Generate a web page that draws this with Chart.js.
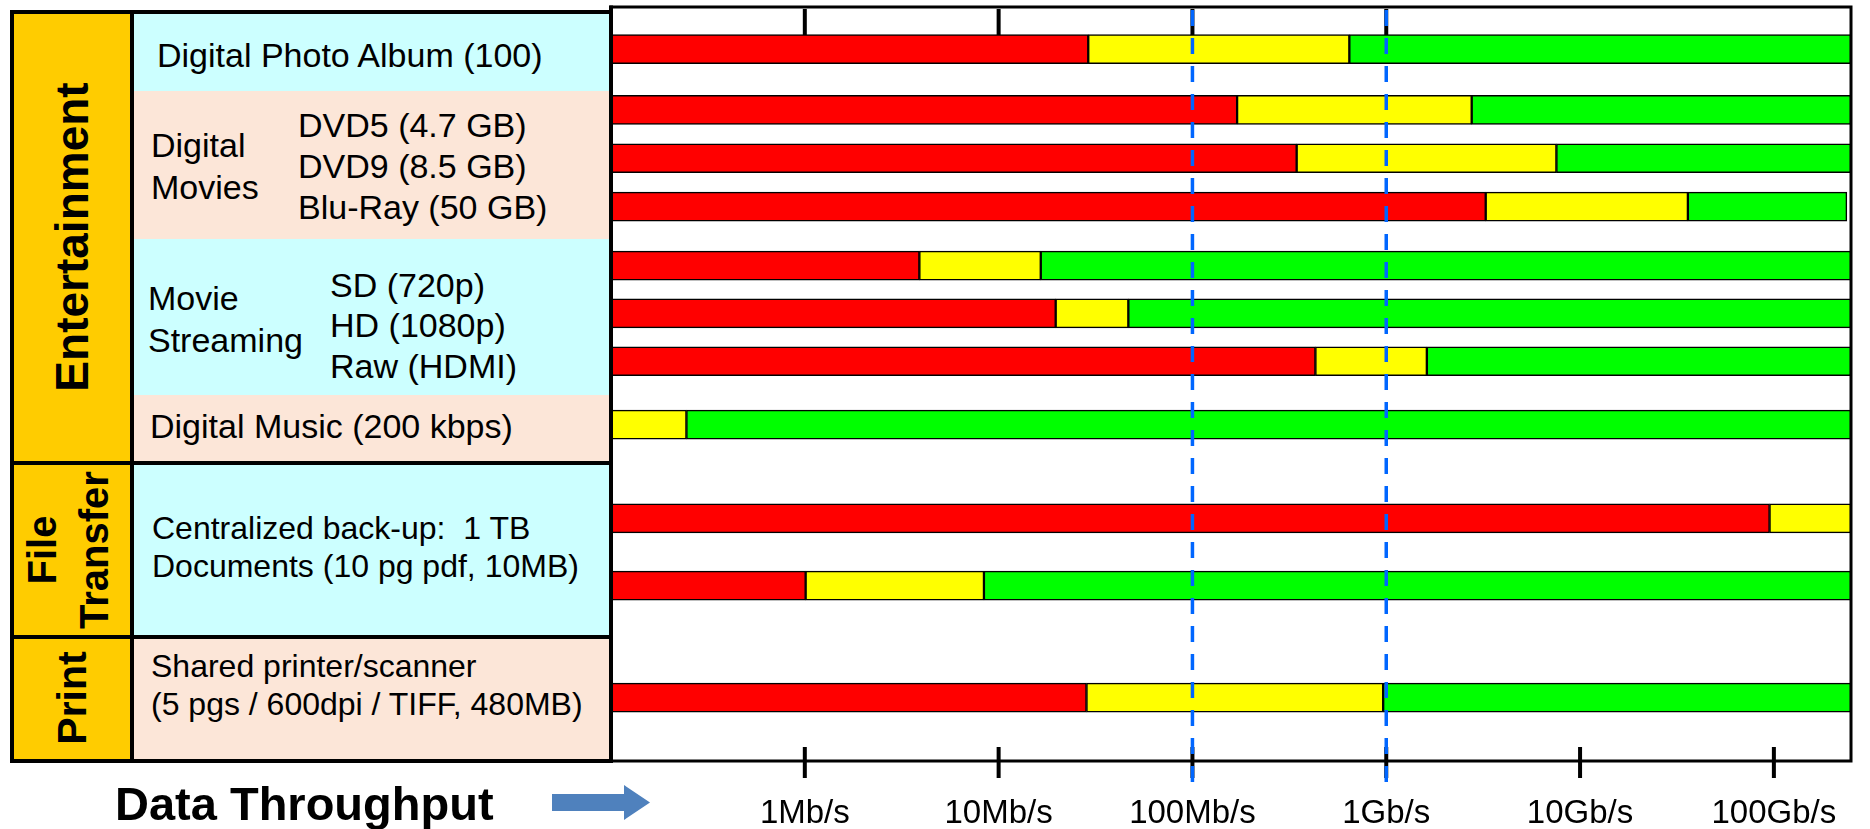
<!DOCTYPE html>
<html>
<head>
<meta charset="utf-8">
<title>Home network data throughput</title>
<script src="https://cdn.jsdelivr.net/npm/chart.js@4.4.1/dist/chart.umd.min.js"></script>
<style>
  html, body { margin: 0; padding: 0; background: #fff; }
  #wrap { position: relative; width: 1870px; height: 829px; overflow: hidden;
          font-family: "Liberation Sans", Arial, sans-serif; color: #000; }
  #chart-box { position: absolute; left: 0; top: 0; width: 1870px; height: 829px; }
  .box { position: absolute; }
  .cyan { background: #CCFFFF; }
  .peach { background: #FCE6D8; }
  .gold { background: #FFCC00; }
  .t { position: absolute; white-space: pre; line-height: 1; }
  .s34 { font-size: 34px; }
  .s32 { font-size: 32px; }
  .cat { position: absolute; transform: translate(-50%, -50%) rotate(-90deg);
         font-weight: bold; white-space: pre; text-align: center; line-height: 1; }
</style>
</head>
<body>
<div id="wrap">
  <div id="chart-box"><canvas id="chart"></canvas></div>

  <!-- category / use-case table on the left -->
  <div class="box" style="left:10px;top:10px;width:603px;height:753px;background:#000"></div>
  <div class="box gold" style="left:14px;top:14px;width:116px;height:447px"></div>
  <div class="box gold" style="left:14px;top:465px;width:116px;height:170px"></div>
  <div class="box gold" style="left:14px;top:639px;width:116px;height:120px"></div>

  <div class="box cyan"  style="left:134px;top:14px;width:475px;height:77px"></div>
  <div class="box peach" style="left:134px;top:91px;width:475px;height:148px"></div>
  <div class="box cyan"  style="left:134px;top:239px;width:475px;height:156px"></div>
  <div class="box peach" style="left:134px;top:395px;width:475px;height:66px"></div>
  <div class="box cyan"  style="left:134px;top:465px;width:475px;height:170px"></div>
  <div class="box peach" style="left:134px;top:639px;width:475px;height:120px"></div>

  <div class="cat" style="left:72px;top:237px;font-size:46px">Entertainment</div>
  <div class="cat" style="left:68px;top:550px;font-size:40px;line-height:52px">File
Transfer</div>
  <div class="cat" style="left:72px;top:698px;font-size:41px">Print</div>

  <div class="t s34" style="left:157px;top:38px">Digital Photo Album (100)</div>
  <div class="t s34" style="left:151px;top:128px">Digital</div>
  <div class="t s34" style="left:151px;top:170px">Movies</div>
  <div class="t s34" style="left:298px;top:108px">DVD5 (4.7 GB)</div>
  <div class="t s34" style="left:298px;top:149px">DVD9 (8.5 GB)</div>
  <div class="t s34" style="left:298px;top:190px">Blu-Ray (50 GB)</div>
  <div class="t s34" style="left:148px;top:281px">Movie</div>
  <div class="t s34" style="left:148px;top:323px">Streaming</div>
  <div class="t s34" style="left:330px;top:268px">SD (720p)</div>
  <div class="t s34" style="left:330px;top:308px">HD (1080p)</div>
  <div class="t s34" style="left:330px;top:349px">Raw (HDMI)</div>
  <div class="t s34" style="left:150px;top:409px">Digital Music (200 kbps)</div>
  <div class="t s32" style="left:152px;top:512px">Centralized back-up:  1 TB</div>
  <div class="t s32" style="left:152px;top:550px">Documents (10 pg pdf, 10MB)</div>
  <div class="t s32" style="left:151px;top:650px">Shared printer/scanner</div>
  <div class="t s32" style="left:151px;top:688px">(5 pgs / 600dpi / TIFF, 480MB)</div>

  <!-- axis caption with arrow -->
  <div class="t" style="left:115px;top:780px;font-size:47px;font-weight:bold">Data Throughput</div>
  <svg class="box" style="left:550px;top:782px" width="104" height="44" viewBox="0 0 104 44">
    <polygon points="2,12 74,12 74,3 100,20.5 74,38 74,29 2,29" fill="#4F81BD"/>
  </svg>
</div>

<script>
// Use cases, one per bar row (top to bottom)
const rows = [
  'Digital Photo Album (100)',
  'DVD5 (4.7 GB)',
  'DVD9 (8.5 GB)',
  'Blu-Ray (50 GB)',
  'SD (720p)',
  'HD (1080p)',
  'Raw (HDMI)',
  'Digital Music (200 kbps)',
  'Centralized back-up: 1 TB',
  'Documents (10 pg pdf, 10MB)',
  'Shared printer/scanner (5 pgs / 600dpi / TIFF, 480MB)'
];

// Vertical lane of each row (row units, counted from the top of the plot)
const lanes = [0.87, 2.13, 3.13, 4.13, 5.35, 6.34, 7.33, 8.64, 10.58, 11.97, 14.29];

// Throughput limits in Mb/s: red = too slow, yellow = marginal, green = fine
const redEnd    = [29, 170, 345, 3260, 3.9, 19.7, 431, null, 95000, 1.01, 28.4];
const yellowEnd = [645, 2760, 7550, 36000, 16.5, 46.7, 1620, 0.245, 250000, 8.4, 964];
const greenEnd  = [250000, 250000, 250000, 238000, 250000, 250000, 250000, 250000, null, 250000, 250000];

// Throughput axis (Mb/s)
const axisMin = 0.1;
const axisMax = 250000;
const tickValues = [1, 10, 100, 1000, 10000, 100000];
const tickLabels = ['1Mb/s', '10Mb/s', '100Mb/s', '1Gb/s', '10Gb/s', '100Gb/s'];
const topTickValues = [1, 10, 100, 1000];
const markerLines = [100, 1000];   // Fast Ethernet and Gigabit Ethernet

const FONT = '"Liberation Sans", Arial, sans-serif';

const redData = [], yellowData = [], greenData = [];
rows.forEach((name, i) => {
  const y = lanes[i];
  const r = redEnd[i], ye = yellowEnd[i], g = greenEnd[i];
  if (r !== null) redData.push({ x: [axisMin, r], y, name });
  yellowData.push({ x: [r !== null ? r : axisMin, ye], y, name });
  if (g !== null) greenData.push({ x: [ye, g], y, name });
});

function band(label, data, color) {
  return {
    label, data,
    backgroundColor: color,
    borderColor: '#000',
    borderWidth: 1.5,
    borderSkipped: false,
    barThickness: 29,
    grouped: false
  };
}

// Frame, tick marks and the dashed Ethernet reference lines
const overlay = {
  id: 'overlay',
  afterDatasetsDraw(chart) {
    const { ctx, chartArea: a, scales: { x } } = chart;
    ctx.save();
    ctx.strokeStyle = '#000';
    ctx.lineWidth = 3;
    ctx.strokeRect(a.left, a.top, a.right - a.left, a.bottom - a.top);
    ctx.lineWidth = 4;
    ctx.beginPath();
    ctx.moveTo(a.left, a.top - 1.5);
    ctx.lineTo(a.left, a.bottom + 1.5);
    ctx.stroke();

    ctx.lineWidth = 4;
    tickValues.forEach(v => {
      const px = x.getPixelForValue(v);
      ctx.beginPath();
      ctx.moveTo(px, a.bottom - 14);
      ctx.lineTo(px, a.bottom + 17);
      ctx.stroke();
    });
    topTickValues.forEach(v => {
      const px = x.getPixelForValue(v);
      ctx.beginPath();
      ctx.moveTo(px, a.top + 2);
      ctx.lineTo(px, a.top + 28);
      ctx.stroke();
    });

    ctx.strokeStyle = '#0066FF';
    ctx.lineWidth = 3.5;
    ctx.setLineDash([16, 12]);
    markerLines.forEach(v => {
      const px = x.getPixelForValue(v);
      ctx.beginPath();
      ctx.moveTo(px, a.top + 3);
      ctx.lineTo(px, a.bottom + 21);
      ctx.stroke();
    });
    ctx.restore();
  }
};

new Chart(document.getElementById('chart'), {
  type: 'bar',
  data: {
    datasets: [
      band('Insufficient', redData, '#FF0000'),
      band('Marginal', yellowData, '#FFFF00'),
      band('Adequate', greenData, '#00FF00')
    ]
  },
  options: {
    indexAxis: 'y',
    responsive: true,
    maintainAspectRatio: false,
    animation: false,
    layout: { padding: { left: 611, right: 12, top: 7, bottom: 0 } },
    plugins: {
      legend: { display: false },
      tooltip: {
        callbacks: {
          title: items => items[0].raw.name,
          label: item => item.dataset.label + ': ' + item.raw.x[0] + ' - ' + item.raw.x[1] + ' Mb/s'
        }
      }
    },
    scales: {
      x: {
        type: 'logarithmic',
        position: 'bottom',
        min: axisMin,
        max: axisMax,
        afterBuildTicks: s => { s.ticks = tickValues.map(v => ({ value: v })); },
        afterFit: s => { s.height = 68; },
        grid: { display: false, drawTicks: false },
        border: { display: false },
        ticks: {
          autoSkip: false,
          maxRotation: 0,
          padding: 33,
          color: '#000',
          font: { family: FONT, size: 33 },
          callback: v => {
            const i = tickValues.indexOf(v);
            return i >= 0 ? tickLabels[i] : '';
          }
        }
      },
      y: {
        type: 'linear',
        reverse: true,
        offset: false,
        grid: { offset: false },
        min: 0,
        max: 15.6,
        display: false
      }
    }
  },
  plugins: [overlay]
});
</script>
</body>
</html>
